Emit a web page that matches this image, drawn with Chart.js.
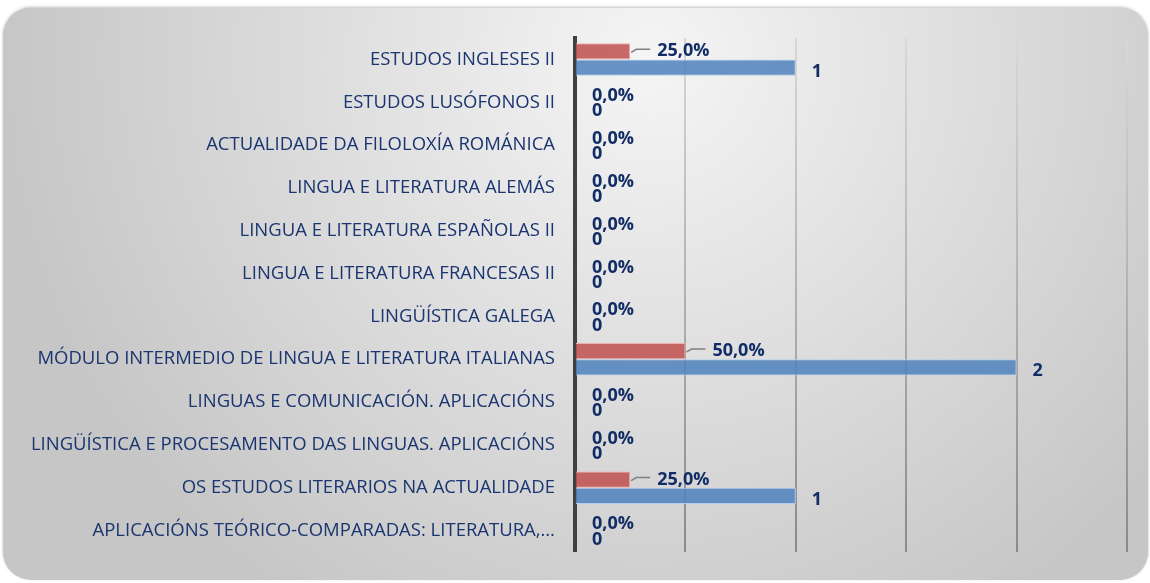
<!DOCTYPE html>
<html>
<head>
<meta charset="utf-8">
<script src="https://cdn.jsdelivr.net/npm/chart.js@4/dist/chart.umd.min.js"></script>
<style>
  html, body { margin: 0; padding: 0; background: #fff; }
  #wrap { width: 1150px; height: 583px; }
</style>
</head>
<body>
<div id="wrap"><canvas id="chart"></canvas></div>
<script>
// data
const categories = [
    'ESTUDOS INGLESES II',
    'ESTUDOS LUSÓFONOS II',
    'ACTUALIDADE DA FILOLOXÍA ROMÁNICA',
    'LINGUA E LITERATURA ALEMÁS',
    'LINGUA E LITERATURA ESPAÑOLAS II',
    'LINGUA E LITERATURA FRANCESAS II',
    'LINGÜÍSTICA GALEGA',
    'MÓDULO INTERMEDIO DE LINGUA E LITERATURA ITALIANAS',
    'LINGUAS E COMUNICACIÓN. APLICACIÓNS',
    'LINGÜÍSTICA E PROCESAMENTO DAS LINGUAS. APLICACIÓNS',
    'OS ESTUDOS LITERARIOS NA ACTUALIDADE',
    'APLICACIÓNS TEÓRICO-COMPARADAS: LITERATURA,…'
];
const percentValues = [0.25, 0, 0, 0, 0, 0, 0, 0.5, 0, 0, 0.25, 0];
const countValues = [1, 0, 0, 0, 0, 0, 0, 2, 0, 0, 1, 0];
const axisTicks = [0, 0.5, 1, 1.5, 2, 2.5];

const navy = '#122d66';

// grey card with rounded corners behind the chart
const cardBg = {
    id: 'cardBg',
    beforeDraw(chart) {
        const ctx = chart.ctx;
        const x = 3, y = 8, w = 1145, h = 572, r = 28;
        ctx.save();
        ctx.fillStyle = '#fff';
        ctx.fillRect(0, 0, chart.width, chart.height);
        const g = ctx.createRadialGradient(650, 60, 0, 650, 60, 650);
        g.addColorStop(0, '#f5f5f5');
        g.addColorStop(1, '#c6c6c6');
        ctx.shadowColor = 'rgba(0,0,0,0.25)';
        ctx.shadowBlur = 3;
        ctx.shadowOffsetY = -1;
        ctx.beginPath();
        ctx.roundRect(x, y, w, h, r);
        ctx.fillStyle = g;
        ctx.fill();
        ctx.restore();
    }
};

// value labels next to the bars
const barLabels = {
    id: 'barLabels',
    afterDatasetsDraw(chart) {
        const ctx = chart.ctx;
        ctx.save();
        ctx.font = 'bold 18px "Open Sans"';
        ctx.fillStyle = navy;
        ctx.textAlign = 'left';
        ctx.textBaseline = 'middle';
        chart.getDatasetMeta(0).data.forEach((bar, i) => {
            const v = percentValues[i];
            const txt = (v * 100).toFixed(1).replace('.', ',') + '%';
            if (v > 0) {
                ctx.strokeStyle = '#808080';
                ctx.lineWidth = 1.5;
                ctx.beginPath();
                ctx.moveTo(bar.x + 1, bar.y + 1);
                ctx.lineTo(bar.x + 6, bar.y - 2);
                ctx.lineTo(bar.x + 20, bar.y - 2);
                ctx.stroke();
                ctx.fillText(txt, bar.x + 27, bar.y);
            } else {
                ctx.fillText(txt, bar.x + 17, bar.y + 2);
            }
        });
        chart.getDatasetMeta(1).data.forEach((bar, i) => {
            const v = countValues[i];
            if (v > 0) ctx.fillText(String(v), bar.x + 16, bar.y + 4);
            else ctx.fillText(String(v), bar.x + 17, bar.y + 1);
        });
        ctx.restore();
    }
};

new Chart(document.getElementById('chart'), {
    type: 'bar',
    data: {
        labels: categories,
        datasets: [{
            data: percentValues,
            backgroundColor: 'rgba(192,80,77,0.85)',
            borderColor: '#eeb0ae',
            borderWidth: 1
        }, {
            data: countValues,
            backgroundColor: 'rgba(79,129,189,0.85)',
            borderColor: '#b4cdee',
            borderWidth: 1
        }]
    },
    options: {
        indexAxis: 'y',
        responsive: true,
        maintainAspectRatio: false,
        animation: false,
        layout: { padding: { left: 0, right: 23, top: 38, bottom: 21 } },
        datasets: { bar: { categoryPercentage: 0.76, barPercentage: 1 } },
        plugins: { legend: { display: false }, tooltip: { enabled: false } },
        scales: {
            x: {
                min: axisTicks[0],
                max: axisTicks[axisTicks.length - 1],
                ticks: { display: false, stepSize: axisTicks[1] - axisTicks[0] },
                border: { display: false },
                grid: {
                    drawTicks: false,
                    lineWidth: 2,
                    color: (c) => {
                        const a = c.chart.chartArea;
                        if (!a) return '#bbb';
                        const g = c.chart.ctx.createLinearGradient(0, a.top, 0, a.bottom);
                        g.addColorStop(0, '#d8d8d8');
                        g.addColorStop(1, '#8a8a8a');
                        return g;
                    }
                },
                afterFit(scale) { scale.height = 0; }
            },
            y: {
                grid: { display: false, drawTicks: false },
                border: { display: true, width: 4, color: '#404040' },
                ticks: {
                    autoSkip: false,
                    padding: 20,
                    color: '#1a3570',
                    font: { family: '"Open Sans"', size: 18.5 }
                },
                afterFit(scale) { scale.width = 575; }
            }
        }
    },
    plugins: [cardBg, barLabels]
});
</script>
</body>
</html>
